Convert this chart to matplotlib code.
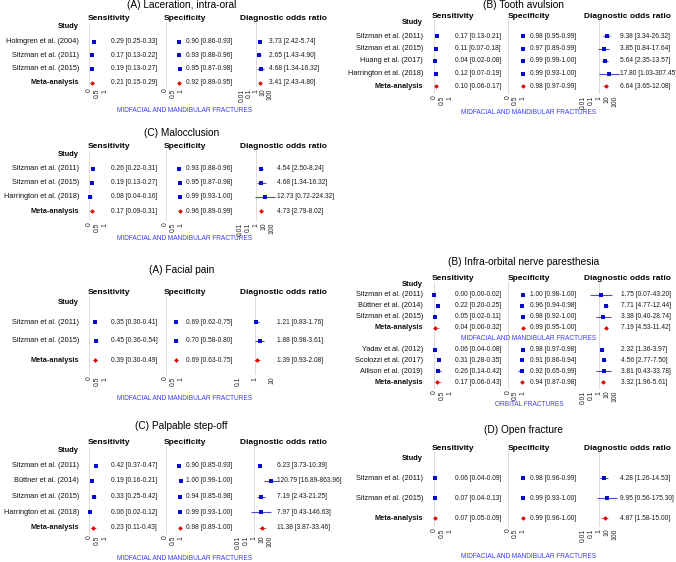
import matplotlib
matplotlib.use("Agg")
import matplotlib.pyplot as plt
from matplotlib.ticker import NullLocator

plt.rcParams['font.family'] = ['Liberation Sans', 'DejaVu Sans']

W, H = 676, 562

# ---------------- data: (estimate, lower, upper) ----------------
MAND = 'MIDFACIAL AND MANDIBULAR FRACTURES'
ORB = 'ORBITAL FRACTURES'

lac_study = ['Holmgren et al. (2004)', 'Sitzman et al. (2011)', 'Sitzman et al. (2015)', 'Meta-analysis']
lac_sens = [(0.29, 0.25, 0.33), (0.17, 0.13, 0.22), (0.19, 0.13, 0.27), (0.21, 0.15, 0.29)]
lac_spec = [(0.90, 0.86, 0.93), (0.93, 0.88, 0.96), (0.95, 0.87, 0.98), (0.92, 0.89, 0.95)]
lac_dor = [(3.73, 2.42, 5.74), (2.65, 1.43, 4.90), (4.68, 1.34, 16.32), (3.41, 2.43, 4.80)]

mal_study = ['Sitzman et al. (2011)', 'Sitzman et al. (2015)', 'Harrington et al. (2018)', 'Meta-analysis']
mal_sens = [(0.26, 0.22, 0.31), (0.19, 0.13, 0.27), (0.08, 0.04, 0.16), (0.17, 0.09, 0.31)]
mal_spec = [(0.93, 0.88, 0.96), (0.95, 0.87, 0.98), (0.99, 0.93, 1.00), (0.96, 0.89, 0.99)]
mal_dor = [(4.54, 2.50, 8.24), (4.68, 1.34, 16.32), (12.73, 0.72, 224.32), (4.73, 2.79, 8.02)]

pain_study = ['Sitzman et al. (2011)', 'Sitzman et al. (2015)', 'Meta-analysis']
pain_sens = [(0.35, 0.30, 0.41), (0.45, 0.36, 0.54), (0.39, 0.30, 0.49)]
pain_spec = [(0.69, 0.62, 0.75), (0.70, 0.58, 0.80), (0.69, 0.63, 0.75)]
pain_dor = [(1.21, 0.83, 1.76), (1.88, 0.98, 3.61), (1.39, 0.93, 2.08)]

step_study = ['Sitzman et al. (2011)', 'Büttner et al. (2014)', 'Sitzman et al. (2015)',
              'Harrington et al. (2018)', 'Meta-analysis']
step_sens = [(0.42, 0.37, 0.47), (0.19, 0.16, 0.21), (0.33, 0.25, 0.42), (0.06, 0.02, 0.12), (0.23, 0.11, 0.43)]
step_spec = [(0.90, 0.85, 0.93), (1.00, 0.99, 1.00), (0.94, 0.85, 0.98), (0.99, 0.93, 1.00), (0.98, 0.89, 1.00)]
step_dor = [(6.23, 3.73, 10.39), (120.79, 16.89, 863.96), (7.19, 2.43, 21.25),
            (7.97, 0.43, 146.63), (11.38, 3.87, 33.46)]

tooth_study = ['Sitzman et al. (2011)', 'Sitzman et al. (2015)', 'Huang et al. (2017)',
               'Harrington et al. (2018)', 'Meta-analysis']
tooth_sens = [(0.17, 0.13, 0.21), (0.11, 0.07, 0.18), (0.04, 0.02, 0.08), (0.12, 0.07, 0.19), (0.10, 0.06, 0.17)]
tooth_spec = [(0.98, 0.95, 0.99), (0.97, 0.89, 0.99), (0.99, 0.99, 1.00), (0.99, 0.93, 1.00), (0.98, 0.97, 0.99)]
tooth_dor = [(9.38, 3.34, 26.32), (3.85, 0.84, 17.64), (5.64, 2.35, 13.57),
             (17.80, 1.03, 307.45), (6.64, 3.65, 12.08)]

ion_study1 = ['Sitzman et al. (2011)', 'Büttner et al. (2014)', 'Sitzman et al. (2015)', 'Meta-analysis']
ion_sens1 = [(0.00, 0.00, 0.02), (0.22, 0.20, 0.25), (0.05, 0.02, 0.11), (0.04, 0.00, 0.32)]
ion_spec1 = [(1.00, 0.98, 1.00), (0.96, 0.94, 0.98), (0.98, 0.92, 1.00), (0.99, 0.95, 1.00)]
ion_dor1 = [(1.75, 0.07, 43.20), (7.71, 4.77, 12.44), (3.38, 0.40, 28.74), (7.19, 4.53, 11.42)]
ion_study2 = ['Yadav et al. (2012)', 'Scolozzi et al. (2017)', 'Allison et al. (2019)', 'Meta-analysis']
ion_sens2 = [(0.06, 0.04, 0.08), (0.31, 0.28, 0.35), (0.26, 0.14, 0.42), (0.17, 0.06, 0.43)]
ion_spec2 = [(0.98, 0.97, 0.98), (0.91, 0.86, 0.94), (0.92, 0.65, 0.99), (0.94, 0.87, 0.98)]
ion_dor2 = [(2.32, 1.36, 3.97), (4.56, 2.77, 7.50), (3.81, 0.43, 33.78), (3.32, 1.96, 5.61)]

open_study = ['Sitzman et al. (2011)', 'Sitzman et al. (2015)', 'Meta-analysis']
open_sens = [(0.06, 0.04, 0.09), (0.07, 0.04, 0.13), (0.07, 0.05, 0.09)]
open_spec = [(0.98, 0.96, 0.99), (0.99, 0.93, 1.00), (0.99, 0.96, 1.00)]
open_dor = [(4.28, 1.26, 14.53), (9.95, 0.56, 175.30), (4.87, 1.58, 15.00)]

dor_ticks_wide = [0.01, 0.1, 1, 10, 100]
dor_ticks_narrow = [0.1, 1, 10]
prop_ticks = [0, 0.5, 1]

# ---------------- layout (pixels) ----------------
LEFT = dict(name_x=79, sens=(89, 105), sens_tx=111, spec=(165.5, 180.5), spec_tx=186,
            hdr=(88, 164, 240), title_x=181.5, foot_x=184.5)
RIGHT = dict(name_x=423, sens=(434, 450), sens_tx=455, spec=(508, 523), spec_tx=530,
             hdr=(432, 508, 584), title_x=523.5, foot_x=529)

panels = [
    dict(title='(A) Laceration, intra-oral', cols=LEFT, title_y=5, head_y=19, study_y=26,
         row0=41.5, dy=13.7, tick_top=88, foot_y=111, dor_ticks=dor_ticks_wide,
         dor_px=(242, 270), dor_tx=269,
         groups=[(lac_study, lac_sens, lac_spec, lac_dor, MAND)]),
    dict(title='(C) Malocclusion', cols=LEFT, title_y=133, head_y=147, study_y=154,
         row0=169, dy=14, tick_top=222, foot_y=239, dor_ticks=dor_ticks_wide,
         dor_px=(240, 272), dor_tx=277,
         groups=[(mal_study, mal_sens, mal_spec, mal_dor, MAND)]),
    dict(title='(A) Facial pain', cols=LEFT, title_y=270, head_y=292, study_y=302,
         row0=322, dy=19, tick_top=376, foot_y=398, dor_ticks=dor_ticks_narrow,
         dor_px=(238, 272), dor_tx=277,
         groups=[(pain_study, pain_sens, pain_spec, pain_dor, MAND)]),
    dict(title='(C) Palpable step-off', cols=LEFT, title_y=426, head_y=443, study_y=451,
         row0=465.5, dy=15.5, tick_top=535, foot_y=558, dor_ticks=dor_ticks_wide,
         dor_px=(238, 270), dor_tx=277,
         groups=[(step_study, step_sens, step_spec, step_dor, MAND)]),
    dict(title='(B) Tooth avulsion', cols=RIGHT, title_y=5, head_y=16, study_y=23,
         row0=36, dy=12.5, tick_top=95, foot_y=112, dor_ticks=dor_ticks_wide,
         dor_px=(583, 615), dor_tx=620,
         groups=[(tooth_study, tooth_sens, tooth_spec, tooth_dor, MAND)]),
    dict(title='(B) Infra-orbital nerve paresthesia', cols=RIGHT, title_y=262, head_y=278,
         study_y=284, row0=295, dy=10.9, tick_top=390, foot_y=404, dor_ticks=dor_ticks_wide,
         dor_px=(583, 615), dor_tx=621,
         groups=[(ion_study1, ion_sens1, ion_spec1, ion_dor1, MAND),
                 (ion_study2, ion_sens2, ion_spec2, ion_dor2, ORB)]),
    dict(title='(D) Open fracture', cols=RIGHT, title_y=430, head_y=448, study_y=458,
         row0=478, dy=20, tick_top=528, foot_y=557, dor_ticks=dor_ticks_wide,
         dor_px=(583, 615), dor_tx=620,
         groups=[(open_study, open_sens, open_spec, open_dor, MAND)]),
]

BLUE = '#0b0bd0'
RED = '#e00000'
FOOT_BLUE = '#3b3bff'

fig = plt.figure(figsize=(W / 100, H / 100), dpi=100)


def px(x):
    return x / W


def py(y):
    return 1 - y / H


def fmt(v):
    return '{:.2f} [{:.2f}-{:.2f}]'.format(*v)


def tick_label(t):
    return '{:g}'.format(t)


def draw_panel(p):
    c = p['cols']
    fig.text(px(c['title_x']), py(p['title_y']), p['title'], ha='center', va='center', fontsize=7.3)
    for hx, lab in zip(c['hdr'], ['Sensitivity', 'Specificity', 'Diagnostic odds ratio']):
        fig.text(px(hx), py(p['head_y']), lab, ha='left', va='center', fontsize=6, fontweight='bold')
    fig.text(px(c['name_x']), py(p['study_y']), 'Study', ha='right', va='center',
             fontsize=5.4, fontweight='bold')

    rows = []
    i = 0
    for gi, (names, sens, spec, dor, foot) in enumerate(p['groups']):
        for k in range(len(names)):
            rows.append((i, names[k], sens[k], spec[k], dor[k]))
            i += 1
        if gi < len(p['groups']) - 1:
            fy = p['row0'] + i * p['dy']
            i += 1
        else:
            fy = p['foot_y']
        fig.text(px(c['foot_x']), py(fy), foot, ha='center', va='center', fontsize=4.7, color=FOOT_BLUE)

    ytop = p['head_y'] + 4
    ybot = p['tick_top'] - 1
    ylim = ((ybot - p['row0']) / p['dy'], (ytop - p['row0']) / p['dy'])

    columns = [
        (c['sens'], prop_ticks, False, 0, 1, c['sens_tx']),
        (c['spec'], prop_ticks, False, 0, 2, c['spec_tx']),
        (p['dor_px'], p['dor_ticks'], True, 1, 3, p['dor_tx']),
    ]
    for (x0, x1), ticks, logx, ref, col, tx in columns:
        ax = fig.add_axes([px(x0), py(ybot), (x1 - x0) / W, (ybot - ytop) / H])
        ax.set_frame_on(False)
        if logx:
            ax.set_xscale('log')
        ax.set_xlim(ticks[0], ticks[-1])
        ax.set_ylim(*ylim)
        ax.set_xticks(ticks)
        ax.set_xticklabels([tick_label(t) for t in ticks])
        ax.xaxis.set_minor_locator(NullLocator())
        ax.set_yticks([])
        ax.tick_params(axis='x', length=0, pad=1.2, labelsize=4.9, labelrotation=90,
                       labelcolor='#222222')
        ax.axvline(ref, color='#dcdcdc', lw=0.7, zorder=0)
        for idx, name, *vals in rows:
            est, lo, hi = vals[col - 1]
            meta = name == 'Meta-analysis'
            ax.hlines(idx, lo, hi, color='#e07878' if meta else '#4a4ad0', lw=0.8,
                      clip_on=False, zorder=2)
            ax.plot(est, idx, 'D' if meta else 's', ms=2.4,
                    color=RED if meta else BLUE, mew=0, clip_on=False, zorder=3)
            fig.text(px(tx), py(p['row0'] + idx * p['dy']), fmt(vals[col - 1]),
                     ha='left', va='center', fontsize=4.8, color='#1a1a1a')

    for idx, name, *vals in rows:
        meta = name == 'Meta-analysis'
        fig.text(px(c['name_x']), py(p['row0'] + idx * p['dy']), name, ha='right', va='center',
                 fontsize=5.3 if meta else 5.3, fontweight='bold' if meta else 'normal',
                 color='#111111')


for p in panels:
    draw_panel(p)

fig.savefig('out.png', dpi=100)
